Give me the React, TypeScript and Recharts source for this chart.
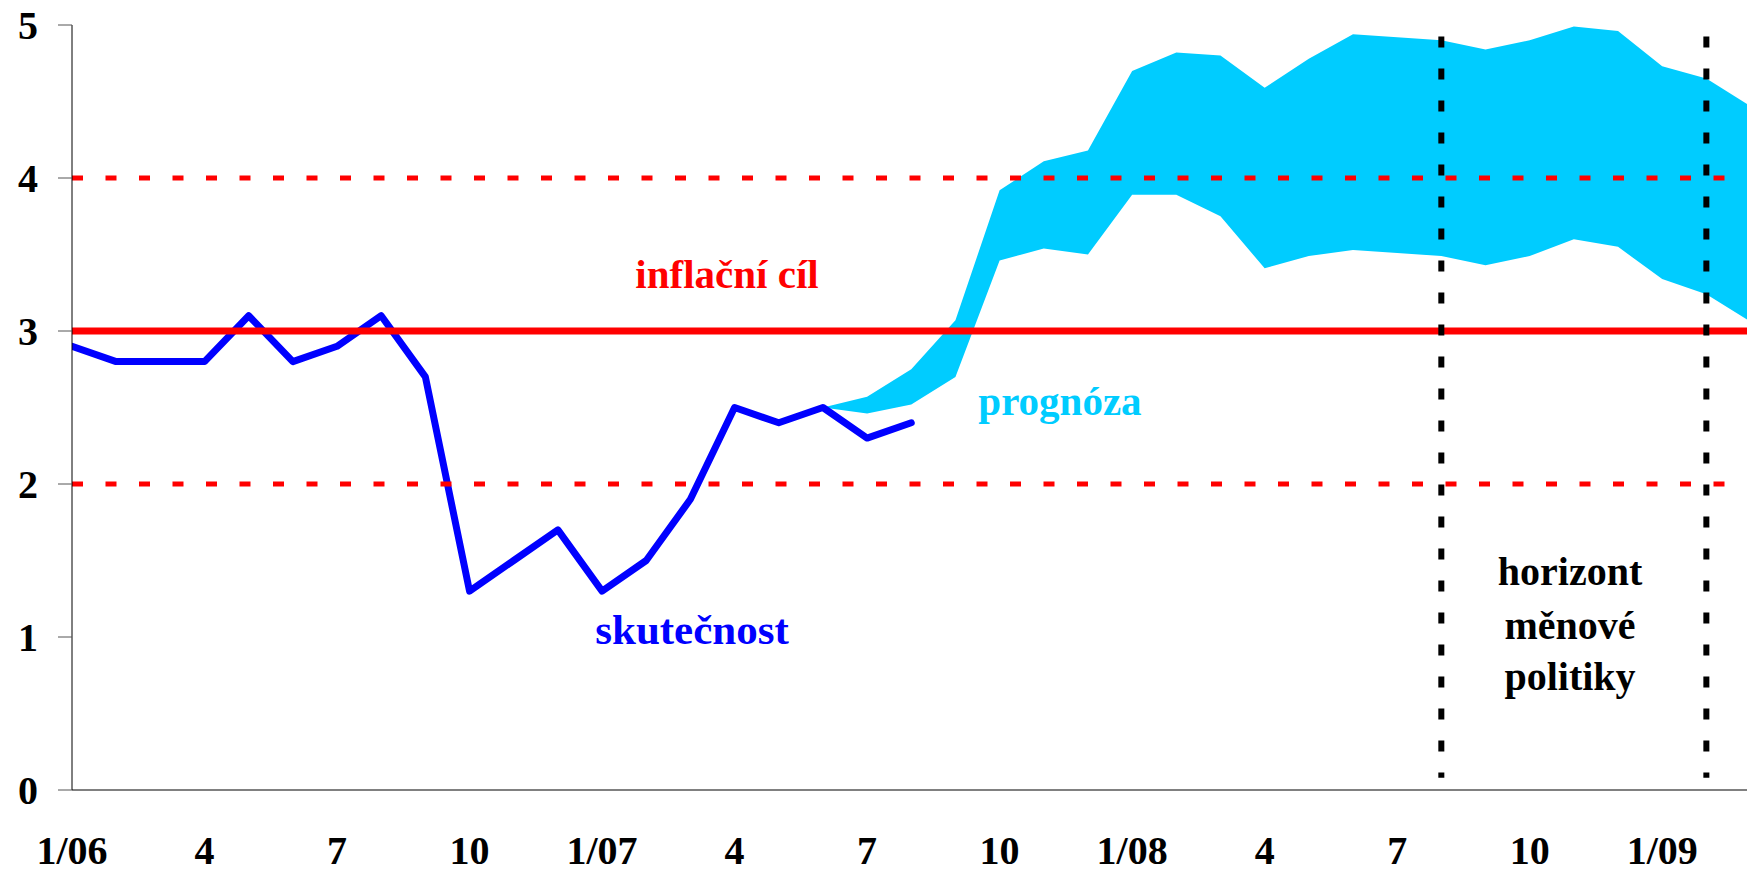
import {
  ComposedChart,
  Line,
  Area,
  XAxis,
  YAxis,
  ReferenceLine,
} from "recharts";

const months = [
  "1/06", "2/06", "3/06", "4/06", "5/06", "6/06", "7/06", "8/06", "9/06", "10/06", "11/06", "12/06",
  "1/07", "2/07", "3/07", "4/07", "5/07", "6/07", "7/07", "8/07", "9/07", "10/07", "11/07", "12/07",
  "1/08", "2/08", "3/08", "4/08", "5/08", "6/08", "7/08", "8/08", "9/08", "10/08", "11/08", "12/08",
  "1/09", "2/09", "3/09",
];

// skutečnost (from 1/06)
const actual = [
  2.9, 2.8, 2.8, 2.8, 3.1, 2.8, 2.9, 3.1, 2.7, 1.3, 1.5, 1.7,
  1.3, 1.5, 1.9, 2.5, 2.4, 2.5, 2.3, 2.4,
];

// prognóza band, starts at 6/07
const forecastFrom = "6/07";
const bandLow = [
  2.5, 2.46, 2.52, 2.7, 3.46, 3.54, 3.5, 3.89, 3.89, 3.75, 3.41,
  3.49, 3.53, 3.51, 3.49, 3.43, 3.49, 3.6, 3.55, 3.34, 3.24, 3.06,
];
const bandHigh = [
  2.5, 2.57, 2.75, 3.07, 3.92, 4.11, 4.18, 4.7, 4.82, 4.8, 4.59,
  4.78, 4.94, 4.92, 4.9, 4.84, 4.9, 4.99, 4.96, 4.73, 4.65, 4.47,
];

const target = 3;
const toleranceLow = 2;
const toleranceHigh = 4;
const horizonMonths = ["8/08", "2/09"];

const yTicks = [0, 1, 2, 3, 4, 5];
const xTicks = [0, 3, 6, 9, 12, 15, 18, 21, 24, 27, 30, 33, 36];
const xTickLabels = ["1/06", "4", "7", "10", "1/07", "4", "7", "10", "1/08", "4", "7", "10", "1/09"];

const font = "'Liberation Serif', 'Times New Roman', serif";
const start = months.indexOf(forecastFrom);

const data = months.map((m, i) => ({
  x: i,
  month: m,
  actual: i < actual.length ? actual[i] : null,
  band: i >= start ? [bandLow[i - start], bandHigh[i - start]] : null,
}));

const tickStyle = { fill: "#000", fontSize: 40, fontWeight: 700, fontFamily: font };

export default function App() {
  return (
    <div style={{ position: "absolute", left: 0, top: 0, width: 1747, height: 872, background: "#fff" }}>
      <ComposedChart
        width={1747}
        height={872}
        data={data}
        margin={{ top: 25, right: 0, bottom: 0, left: 0 }}
      >
        <XAxis
          type="number"
          dataKey="x"
          domain={[0, 37.92]}
          allowDataOverflow
          ticks={xTicks}
          interval={0}
          tickFormatter={(v: number) => xTickLabels[xTicks.indexOf(v)] ?? ""}
          tickLine={false}
          tickSize={0}
          tickMargin={46}
          height={82}
          axisLine={{ stroke: "#808080", strokeWidth: 2 }}
          tick={tickStyle}
        />
        <YAxis
          type="number"
          domain={[0, 5]}
          ticks={yTicks}
          interval={0}
          width={72}
          tickSize={14}
          tickMargin={20}
          axisLine={{ stroke: "#000", strokeWidth: 1 }}
          tickLine={{ stroke: "#555", strokeWidth: 1 }}
          tick={tickStyle}
        />
        <Area
          type="linear"
          dataKey="band"
          stroke="none"
          fill="#00CCFF"
          fillOpacity={1}
          isAnimationActive={false}
        />
        <Line
          type="linear"
          dataKey="actual"
          stroke="#0000FF"
          strokeWidth={7}
          strokeLinecap="round"
          strokeLinejoin="round"
          dot={false}
          activeDot={false}
          isAnimationActive={false}
        />
        <ReferenceLine y={toleranceLow} stroke="#FF0000" strokeWidth={5} strokeDasharray="11 22.5" />
        <ReferenceLine y={toleranceHigh} stroke="#FF0000" strokeWidth={5} strokeDasharray="11 22.5" />
        <ReferenceLine y={target} stroke="#FF0000" strokeWidth={7} />
        {horizonMonths.map((m) => (
          <ReferenceLine
            key={m}
            segment={[
              { x: months.indexOf(m), y: 4.925 },
              { x: months.indexOf(m), y: 0.08 },
            ]}
            stroke="#000"
            strokeWidth={6}
            strokeDasharray="11 21"
          />
        ))}
      </ComposedChart>

      <svg
        width={1747}
        height={872}
        style={{ position: "absolute", left: 0, top: 0, pointerEvents: "none" }}
        fontFamily={font}
        fontWeight={700}
        textAnchor="middle"
      >
        <text x={727} y={288} fontSize={41} fill="#FF0000">inflační cíl</text>
        <text x={1060} y={415} fontSize={41} fill="#00CCFF">prognóza</text>
        <text x={692} y={644} fontSize={43} fill="#0000FF">skutečnost</text>
        <text x={1570} y={585} fontSize={40} fill="#000">horizont</text>
        <text x={1570} y={639} fontSize={40} fill="#000">měnové</text>
        <text x={1570} y={690} fontSize={40} fill="#000">politiky</text>
      </svg>
    </div>
  );
}
